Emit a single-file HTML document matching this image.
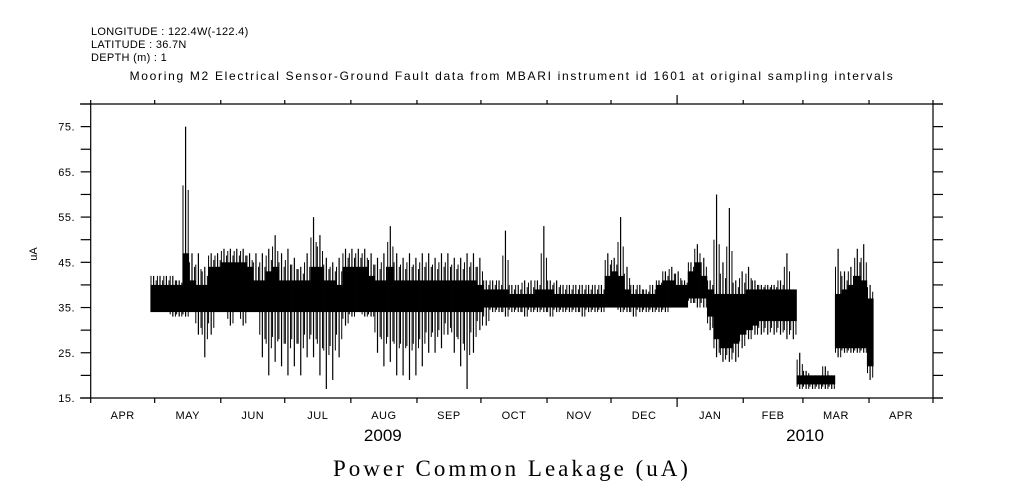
<!DOCTYPE html>
<html><head><meta charset="utf-8"><style>
body{margin:0;background:#fff;}
svg{display:block;font-family:"Liberation Sans",sans-serif;}
</style></head><body>
<svg id="chart" width="1009" height="504" viewBox="0 0 1009 504" xmlns="http://www.w3.org/2000/svg">
<rect width="1009" height="504" fill="#fff"/>
<text x="91" y="35" font-size="11" letter-spacing="0.3">LONGITUDE : 122.4W(-122.4)</text>
<text x="91" y="48" font-size="11" letter-spacing="0.3">LATITUDE : 36.7N</text>
<text x="91" y="61" font-size="11" letter-spacing="0.3">DEPTH (m) : 1</text>
<text x="512" y="80" font-size="12" letter-spacing="1.7" text-anchor="middle">Mooring M2 Electrical Sensor-Ground Fault data from MBARI instrument id 1601 at original sampling intervals</text>
<text x="512" y="476" font-size="23" letter-spacing="3" font-family="Liberation Serif, serif" text-anchor="middle">Power Common Leakage (uA)</text>
<text x="37" y="254" font-size="11" text-anchor="middle" transform="rotate(-90 37 254)">uA</text>
<g id="marks"></g>
<g id="axes"></g>
</svg>
<script>
const yTicks = [15,25,35,45,55,65,75];
const monthLabels = ["APR","MAY","JUN","JUL","AUG","SEP","OCT","NOV","DEC","JAN","FEB","MAR","APR"];
const monthStartDays = [0,30,61,91,122,153,183,214,244,275,306,334,365,395];
const yearLabels = ["2009","2010"];
const yearCenterDays = [137,335];
const binStart = 28;
const binDays = 3;
const hi = [42,42,42,42,41,75,47,47,44,47,47,48,48,48,48,47,47,47,48,51,47,48,46,44,47,55,51,46,45,46,48,48,48,48,47,46,47,53,47,46,47,46,47,47,46,47,47,46,46,47,47,46,41,41,41,52,40,40,41,41,41,53,41,41,40,40,40,40,40,40,40,47,46,55,44,40,40,39,40,41,43,44,43,41,45,49,46,41,60,45,57,41,43,44,41,40,40,40,41,47,39,25,21,20,20,22,20,48,43,44,48,49,40];
const coreHi = [40,40,40,40,40,47,41,40,40,44,44,45,45,45,45,44,41,41,43,44,41,41,41,41,41,44,44,41,41,40,44,44,44,44,42,41,41,44,41,41,41,41,41,41,41,41,41,41,41,41,41,40,39,39,39,39,38,38,38,38,39,39,39,38,38,38,38,38,38,38,38,42,43,42,39,38,38,38,38,40,41,41,40,40,43,45,42,39,38,38,38,38,38,39,39,39,39,39,39,39,39,20,20,20,20,20,20,38,39,40,42,41,37];
const coreLo = [34,34,34,34,34,34,34,34,34,34,34,34,34,34,34,34,34,34,34,34,34,34,34,34,34,34,34,34,34,34,34,34,34,34,34,34,34,34,34,34,34,34,34,34,34,34,34,34,34,34,34,34,35,35,35,35,35,35,35,35,35,35,35,35,35,35,35,35,35,35,35,35,35,35,35,35,35,35,35,35,35,35,35,35,37,37,37,33,28,26,26,27,29,30,31,32,32,32,32,32,32,18,18,18,18,18,18,26,26,26,26,26,22];
const lo = [34,34,34,33,33,33,34,29,24,29,34,34,31,34,31,34,34,24,20,23,22,20,22,20,24,24,20,17,19,24,31,33,34,33,33,25,22,23,20,20,19,20,22,25,25,26,29,25,22,17,25,30,31,34,34,33,34,34,33,34,34,34,33,34,34,34,34,33,34,34,34,35,35,34,34,33,34,34,34,34,34,35,35,35,36,35,35,30,24,23,23,23,26,28,29,29,29,29,29,28,28,17,17,17,17,17,17,24,25,25,25,25,19];

const NS="http://www.w3.org/2000/svg";
const X0=90.7, X1=933, Y0=398, Y1=104, DMAX=395, VMIN=15, VMAX=80;
function xs(d){return X0+(X1-X0)*d/DMAX;}
function ys(v){return Y0-(Y0-Y1)*(v-VMIN)/(VMAX-VMIN);}
function mk(tag,attrs,parent){const e=document.createElementNS(NS,tag);for(const k in attrs)e.setAttribute(k,attrs[k]);parent.appendChild(e);return e;}
const marks=document.getElementById('marks'), axes=document.getElementById('axes');

for(let i=0;i<hi.length;i++){
  const d=binStart+i*binDays;
  const xa=xs(d), xb=xs(d+binDays);
  const r=mk('rect',{x:xa,y:ys(coreHi[i]),width:xb-xa+0.3,height:ys(coreLo[i])-ys(coreHi[i]),fill:'#000'},marks);
  
  
  const l=mk('line',{x1:(xa+xb)/2,x2:(xa+xb)/2,y1:ys(hi[i]),y2:ys(lo[i]),stroke:'#000','stroke-width':1.2},marks);
  
  
  // texture: partial excursions at bin edges
  const midHi=(hi[i]+coreHi[i])/2, midLo=(lo[i]+coreLo[i])/2;
  [xa+0.6, xb-0.6].forEach((x,k)=>{
    const t=mk('line',{x1:x,x2:x,y1:ys(k?midHi:Math.min(hi[i],midHi+1)),y2:ys(k?Math.max(lo[i],midLo-1):midLo),stroke:'#000','stroke-width':1},marks);
    
    
  });
}

const st={stroke:'#000','stroke-width':1.2};
let a;
a=mk('line',Object.assign({x1:80,x2:943,y1:Y1,y2:Y1},st),axes);


a=mk('line',Object.assign({x1:80,x2:943,y1:Y0,y2:Y0},st),axes);


a=mk('line',Object.assign({x1:X0,x2:X0,y1:Y1,y2:Y0},st),axes);


a=mk('line',Object.assign({x1:X1,x2:X1,y1:Y1,y2:Y0},st),axes);



for(let v=15;v<=80;v+=5){
  const y=ys(v);
  a=mk('line',Object.assign({x1:X0-10,x2:X0,y1:y,y2:y},st),axes);
  
  
  a=mk('line',Object.assign({x1:X1,x2:X1+10,y1:y,y2:y},st),axes);
  
  
}
yTicks.forEach(v=>{
  const t=mk('text',{x:75,y:ys(v)+4,'font-size':11,'letter-spacing':0.5,'text-anchor':'end'},axes);
  t.textContent=v+'.';
  
  
});
monthStartDays.forEach((d,i)=>{
  const x=xs(d); const big=(d===275);
  a=mk('line',Object.assign({x1:x,x2:x,y1:Y0,y2:Y0+(big?9:5)},st),axes);
  
  
  a=mk('line',Object.assign({x1:x,x2:x,y1:Y1-(big?9:4),y2:Y1},st),axes);
  
  
  if(i<monthLabels.length){
    const t=mk('text',{x:(xs(d)+xs(monthStartDays[i+1]))/2,y:419,'font-size':11,'letter-spacing':0.5,'text-anchor':'middle'},axes);
    t.textContent=monthLabels[i];
    
    
  }
});
yearLabels.forEach((y,i)=>{
  const t=mk('text',{x:xs(yearCenterDays[i]),y:441,'font-size':17,'text-anchor':'middle'},axes);
  t.textContent=y;
  
  
});
</script>
</body></html>
